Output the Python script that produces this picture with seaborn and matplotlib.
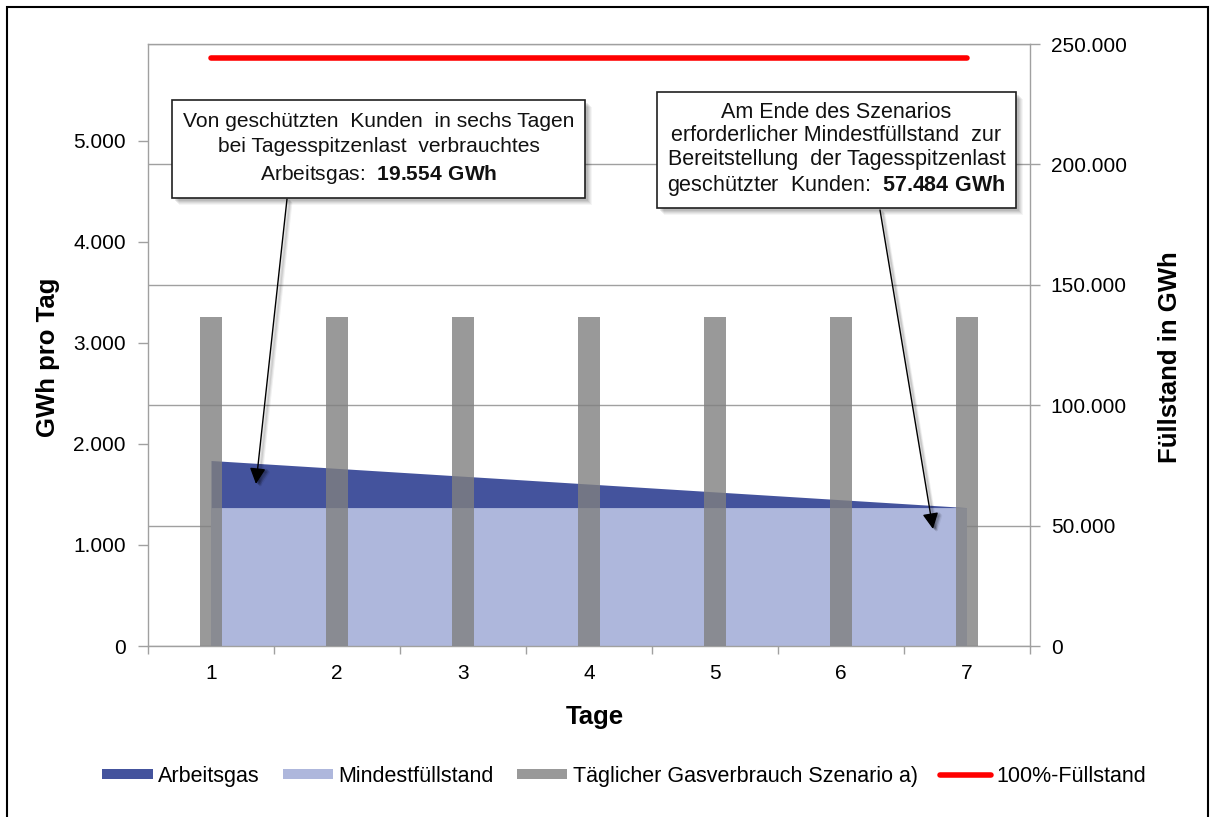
import matplotlib
matplotlib.use("Agg")
import matplotlib.pyplot as plt
import seaborn as sns
import pandas as pd
from matplotlib.patches import Rectangle, Patch
from matplotlib.lines import Line2D
from matplotlib.ticker import FuncFormatter, FixedLocator
from matplotlib.transforms import offset_copy

# ---- data -------------------------------------------------------------
tage = [1, 2, 3, 4, 5, 6, 7]
verbrauch = [3259, 3259, 3259, 3259, 3259, 3259, 3259]          # GWh pro Tag
arbeitsgas = [19554, 16295, 13036, 9777, 6518, 3259, 0]          # GWh
mindestfuellstand = [57484, 57484, 57484, 57484, 57484, 57484, 57484]  # GWh
vollfuellstand = [244000, 244000, 244000, 244000, 244000, 244000, 244000]  # GWh

legend_labels = ["Arbeitsgas", "Mindestfüllstand",
                 "Täglicher Gasverbrauch Szenario a)", "100%-Füllstand"]

# ---- style ------------------------------------------------------------
plt.rcParams["font.family"] = ["Liberation Sans", "DejaVu Sans"]
plt.rcParams["mathtext.fontset"] = "custom"
plt.rcParams["mathtext.rm"] = "Liberation Sans"
plt.rcParams["mathtext.bf"] = "Liberation Sans:bold"

DUNKEL = "#44539D"
HELL = "#AEB7DC"
GRAU = "#808080"
ROT = "#FF0000"
LINIE = "#A0A0A0"

W, H = 1212, 817
fig = plt.figure(figsize=(W / 100, H / 100), dpi=100)
fig.patch.set_facecolor("white")

ax = fig.add_axes([148 / W, 1 - 646 / H, 882 / W, 602 / H])
ax_b = ax.twinx()

# storage level (right scale)
df = pd.DataFrame({"tag": tage, "mindest": mindestfuellstand,
                   "arbeitsgas": arbeitsgas, "voll": vollfuellstand,
                   "verbrauch": verbrauch})
df["gesamt"] = df["mindest"] + df["arbeitsgas"]

ax.fill_between(df["tag"], 0, df["mindest"], color=HELL, lw=0, zorder=2)
ax.fill_between(df["tag"], df["mindest"], df["gesamt"], color=DUNKEL, lw=0, zorder=2)
sns.lineplot(data=df, x="tag", y="voll", ax=ax, color=ROT, linewidth=4,
             solid_capstyle="round", zorder=3)
ax.set_ylim(0, 250000)
ax.set_xlim(0.5, 7.5)
ax.yaxis.tick_right()
ax.yaxis.set_label_position("right")
ax.yaxis.set_major_locator(FixedLocator([0, 50000, 100000, 150000, 200000, 250000]))
ax.set_axisbelow(True)
ax.grid(axis="y", color=LINIE, lw=1)
ax.grid(axis="x", visible=False)

# daily consumption (left scale), drawn above the storage areas
sns.barplot(data=df, x="tag", y="verbrauch", ax=ax_b, native_scale=True,
            width=0.175, color=GRAU, alpha=0.8, saturation=1, errorbar=None)
ax_b.set_ylim(0, 5960)
ax_b.set_xlim(0.5, 7.5)
ax_b.yaxis.tick_left()
ax_b.yaxis.set_label_position("left")
ax_b.yaxis.set_major_locator(FixedLocator([0, 1000, 2000, 3000, 4000, 5000]))

de_fmt = FuncFormatter(lambda v, p: f"{v:,.0f}".replace(",", "."))
ax.yaxis.set_major_formatter(de_fmt)
ax_b.yaxis.set_major_formatter(de_fmt)

# axes frame and ticks
for s in ax.spines.values():
    s.set_color(LINIE)
    s.set_linewidth(1)
for s in ax_b.spines.values():
    s.set_visible(False)

ax.set_xticks(tage)
ax.set_xticks([0.5 + i for i in range(8)], minor=True)
ax.tick_params(axis="x", which="major", length=0, pad=13, labelsize=15, colors="#000000")
ax.tick_params(axis="x", which="minor", length=6, color=LINIE, width=1)
ax.tick_params(axis="y", which="major", direction="out", length=7, color=LINIE,
               width=1, pad=8, labelsize=15, labelcolor="#000000",
               right=True, left=False)
ax_b.tick_params(axis="y", which="major", direction="out", length=7, color=LINIE,
                 width=1, pad=9, labelsize=15, labelcolor="#000000",
                 left=True, right=False)
ax_b.tick_params(axis="y", which="minor", left=False, right=False)

ax.set_xlabel("Tage", fontsize=18.5, fontweight="bold")
ax.xaxis.set_label_coords(0.507, -0.098)
ax_b.set_ylabel("GWh pro Tag", fontsize=18.5, fontweight="bold")
ax_b.yaxis.set_label_coords(-0.100, 0.48)
ax.set_ylabel("Füllstand in GWh", fontsize=18.5, fontweight="bold")
ax.yaxis.set_label_coords(1.145, 0.48)

# legend
handles = [Patch(facecolor=DUNKEL), Patch(facecolor=HELL),
           Patch(facecolor=GRAU, alpha=0.8),
           Line2D([], [], color=ROT, lw=4, solid_capstyle="round")]
fig.legend(handles, legend_labels, loc="center", bbox_to_anchor=(0.515, 0.05),
           ncol=4, frameon=False, fontsize=15.5, handlelength=2.35,
           handleheight=0.4, handletextpad=0.25, columnspacing=1.05)


# callout boxes with soft shadow
def callout(l, t, r, b, text, size, linespacing):
    for off, a in [(7, 0.04), (6, 0.05), (5, 0.06), (4, 0.07), (3, 0.08)]:
        fig.add_artist(Rectangle(((l + off) / W, 1 - (b + off) / H), (r - l) / W, (b - t) / H,
                                 transform=fig.transFigure, facecolor="black",
                                 edgecolor="none", alpha=a, zorder=9))
    fig.add_artist(Rectangle((l / W, 1 - b / H), (r - l) / W, (b - t) / H,
                             transform=fig.transFigure, facecolor="white",
                             edgecolor="#202020", lw=1.2, zorder=10))
    fig.text((l + r) / 2 / W, 1 - (t + b) / 2 / H, text, ha="center", va="center",
             fontsize=size, linespacing=linespacing, zorder=11, color="#111111")


callout(172, 100, 585, 198,
        "Von geschützten  Kunden  in sechs Tagen\n"
        "bei Tagesspitzenlast  verbrauchtes\n"
        r"Arbeitsgas:  $\mathbf{19.554\ GWh}$", 15.1, 1.38)
callout(657, 92, 1016, 208,
        "Am Ende des Szenarios\n"
        "erforderlicher Mindestfüllstand  zur\n"
        "Bereitstellung  der Tagesspitzenlast\n"
        r"geschützter  Kunden:  $\mathbf{57.484\ GWh}$", 15.5, 1.17)


# arrows from the boxes to the areas, with a faint drop shadow
def pfeil(tip, start):
    for dx, a in [(4, 0.06), (3, 0.08), (2, 0.10)]:
        ax_b.annotate("", xy=tip, xycoords=offset_copy(ax.transData, fig=fig, x=dx, y=-dx, units="dots"),
                      xytext=(start[0] / W + dx / W, 1 - start[1] / H - dx / H),
                      textcoords="figure fraction",
                      arrowprops=dict(arrowstyle="-|>", mutation_scale=24, color="black",
                                      alpha=a, lw=2, shrinkA=0, shrinkB=0), zorder=11)
    ax_b.annotate("", xy=tip, xycoords=ax.transData,
                  xytext=(start[0] / W, 1 - start[1] / H), textcoords="figure fraction",
                  arrowprops=dict(arrowstyle="-|>", mutation_scale=24, color="black",
                                  lw=1, shrinkA=0, shrinkB=0), zorder=12)


pfeil((1.357, 67300), (287, 199))
pfeil((6.73, 48600), (880, 210))

# outer frame of the chart
fig.add_artist(Rectangle((7 / W, -0.02), (1208 - 7) / W, 1 - 7 / H + 0.02,
                         transform=fig.transFigure, fill=False,
                         edgecolor="black", lw=1.5, zorder=20))

fig.savefig("out.png", dpi=100)
